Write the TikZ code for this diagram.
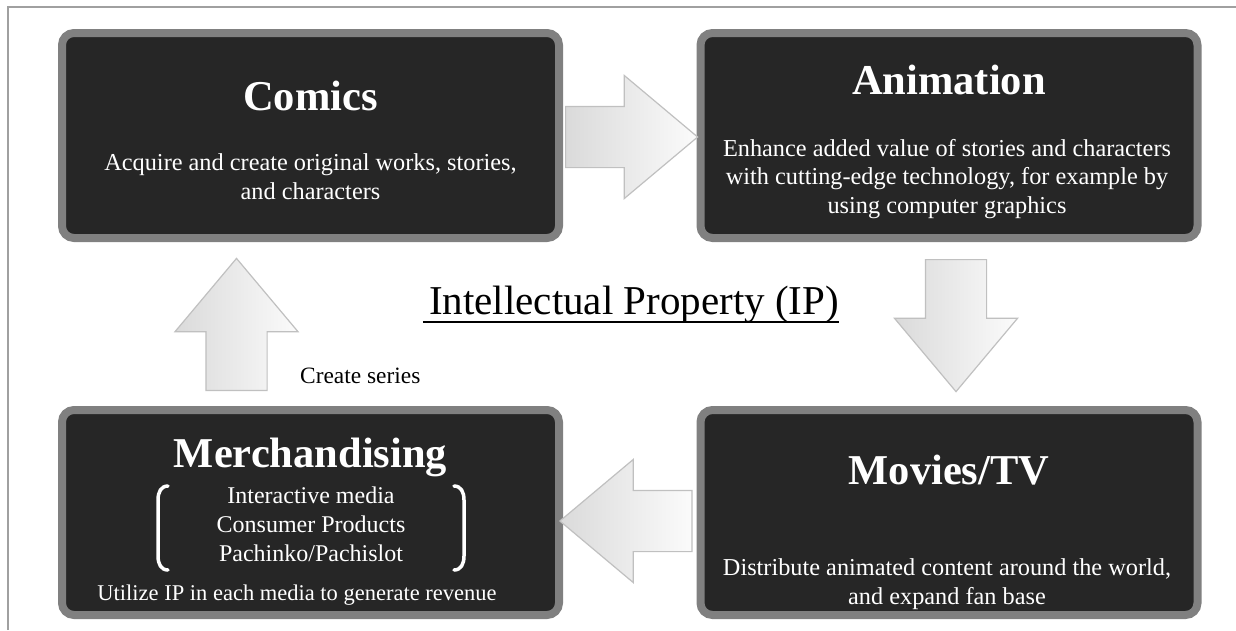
\documentclass[tikz,border=0pt]{standalone}
\usepackage{fontspec}
\setmainfont{Liberation Serif}
\usetikzlibrary{shapes.arrows, positioning, calc}
\definecolor{boxfill}{RGB}{38, 38, 38}
\definecolor{boxedge}{RGB}{128, 128, 128}
\definecolor{arrowedge}{RGB}{192, 192, 192}
\definecolor{arrowdark}{RGB}{218, 218, 218}
\definecolor{arrowlight}{RGB}{251, 251, 251}
\definecolor{framegray}{RGB}{160, 160, 160}

\begin{document}
\begin{tikzpicture}[x=1pt, y=-1pt,
    ipbox/.style={draw=boxedge, fill=boxfill, line width=8pt, rounded corners=12pt,
          minimum width=497pt, minimum height=205pt, inner sep=0pt},
    boxtitle/.style={text=white, font=\fontsize{42.5}{48}\selectfont\bfseries, anchor=base, inner sep=0pt},
    boxtext/.style={text=white, font=\fontsize{24.3}{29}\selectfont, align=center, anchor=base, inner sep=0pt},
    blockarrow/.style={single arrow, draw=arrowedge, line width=1.2pt, left color=arrowdark, right color=arrowlight,
          minimum height=132pt, single arrow head extend=31pt,
          single arrow tip angle=80, inner xsep=0pt, inner ysep=30pt, anchor=tail}]
    \useasboundingbox (0,0) rectangle (1236,630);
    \fill[white] (0,0) rectangle (1236,630);
    \draw[framegray, line width=1.5pt] (8,630) -- (8,7) -- (1236,7);

    % Block 1: Comics
    \node[ipbox] (comics) at (310.5, 135.5) {};
    \node[boxtitle] (comicsTitle) at (310.5, 110) {Comics};
    \node[boxtext] (comicsText) at (310.5, 199) {Acquire and create original works, stories,\\and characters};

    % Block 2: Animation
    \node[ipbox] (anim) at (949, 135.5) {};
    \node[boxtitle] (animTitle) at (949, 94) {Animation};
    \node[boxtext, font=\fontsize{24.3}{28.5}\selectfont] (animText) at (947, 213)
        {Enhance added value of stories and characters\\with cutting-edge technology, for example by\\using computer graphics};

    % Block 3: Movies/TV
    \node[ipbox] (movies) at (949, 512.5) {};
    \node[boxtitle] (moviesTitle) at (949, 484) {Movies/TV};
    \node[boxtext] (moviesText) at (947, 604) {Distribute animated content around the world,\\and expand fan base};

    % Block 4: Merchandising
    \node[ipbox] (merch) at (310.5, 512.5) {};
    \node[boxtitle] (merchTitle) at (310.5, 467) {Merchandising};
    \node[boxtext, font=\fontsize{24}{29}\selectfont] (merchList) at (311, 561) {Interactive media\\Consumer Products\\Pachinko/Pachislot};
    \node[boxtext, font=\fontsize{22.5}{29}\selectfont] (merchText) at (297, 600) {Utilize IP in each media to generate revenue};
    \draw[white, line width=3.5pt, line cap=round]
        (168,486) .. controls (161,486) and (158,492) .. (158,500) -- (158,556)
        .. controls (158,564) and (161,570) .. (168,570);
    \draw[white, line width=3.5pt, line cap=round]
        (454,486) .. controls (461,486) and (464,492) .. (464,500) -- (464,556)
        .. controls (464,564) and (461,570) .. (454,570);

    % Flow arrows
    \node[blockarrow] (flowCA) at ($(comics.east)+(2,1.5)$) {};
    \node[blockarrow, rotate=-90] (flowAM) at ($(anim.south)+(7,17)$) {};
    \node[blockarrow, rotate=180] (flowMM) at ($(movies.west)+(-4,8.5)$) {};
    \node[blockarrow, rotate=90] (flowMC) at ($(merch.north)+(-74,-15)$) {};

    % Labels
    \node[font=\fontsize{41}{46}\selectfont, anchor=base, inner sep=0pt] (iplabel) at (634, 314) {Intellectual Property (IP)};
    \draw[line width=2pt] ([xshift=-6pt, yshift=-8pt]iplabel.base west) -- ([yshift=-8pt]iplabel.base east);
    \node[font=\fontsize{23.4}{29}\selectfont, anchor=base west, inner sep=0pt] (series) at (300, 383) {Create series};
\end{tikzpicture}
\end{document}
